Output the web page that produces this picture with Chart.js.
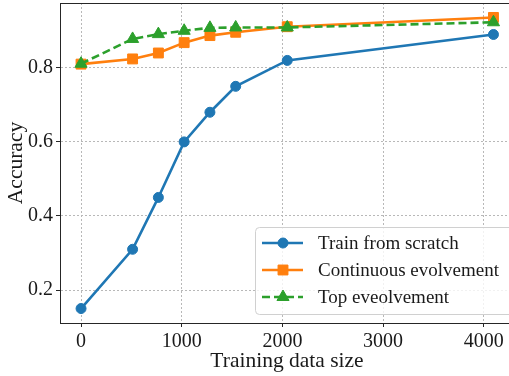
<!DOCTYPE html>
<html>
<head>
<meta charset="utf-8">
<script src="https://cdn.jsdelivr.net/npm/chart.js@4"></script>
<style>
  html, body { margin: 0; padding: 0; background: #fff; overflow: hidden; }
  #wrap { width: 515px; height: 376px; }
</style>
</head>
<body>
<div id="wrap"><canvas id="accChart" width="515" height="376"></canvas></div>
<script>
// データ
const sizes = [0, 512, 768, 1024, 1280, 1536, 2048, 4096];
const scratch = [0.15, 0.31, 0.45, 0.60, 0.68, 0.75, 0.82, 0.89];
const continuous = [0.81, 0.824, 0.84, 0.868, 0.887, 0.896, 0.911, 0.936];
const topEvo = [0.811, 0.878, 0.891, 0.90, 0.908, 0.909, 0.909, 0.923];
const seriesNames = ['Train from scratch', 'Continuous evolvement', 'Top eveolvement'];
const xTicks = [0, 1000, 2000, 3000, 4000];
const yTicks = [0.2, 0.4, 0.6, 0.8];

const serif = "'Liberation Serif', 'DejaVu Serif', serif";

function toPoints(ys) {
  return sizes.map((x, i) => ({ x: x, y: ys[i] }));
}

// 上側の枠線と凡例
const framePlugin = {
  id: 'frame',
  afterDraw(chart) {
    const ctx = chart.ctx;
    const a = chart.chartArea;
    ctx.save();
    ctx.strokeStyle = '#262626';
    ctx.lineWidth = 1;
    ctx.beginPath();
    ctx.moveTo(a.left, a.top + 0.5);
    ctx.lineTo(a.right, a.top + 0.5);
    ctx.stroke();

    // legend box
    const bx = 255.5, by = 227.5, bw = 270, bh = 87;
    ctx.beginPath();
    ctx.roundRect(bx, by, bw, bh, 4);
    ctx.fillStyle = 'rgba(255,255,255,0.8)';
    ctx.fill();
    ctx.strokeStyle = '#d0d0d0';
    ctx.stroke();

    chart.data.datasets.forEach((ds, i) => {
      const y = 243 + i * 27;
      ctx.save();
      ctx.strokeStyle = ds.borderColor;
      ctx.lineWidth = ds.borderWidth;
      ctx.setLineDash(ds.borderDash || []);
      ctx.beginPath();
      ctx.moveTo(262, y);
      ctx.lineTo(303, y);
      ctx.stroke();
      ctx.restore();
      ctx.save();
      ctx.fillStyle = ds.pointBackgroundColor;
      ctx.strokeStyle = ds.pointBorderColor;
      Chart.helpers.drawPoint(ctx, {
        pointStyle: ds.pointStyle,
        radius: ds.pointRadius,
        rotation: 0,
        borderWidth: ds.pointBorderWidth
      }, 283, y);
      ctx.restore();
      ctx.fillStyle = '#1a1a1a';
      ctx.font = '19px ' + serif;
      ctx.textBaseline = 'middle';
      ctx.fillText(ds.label, 318, y + 1);
    });
    ctx.restore();
  }
};

const colors = ['#1f77b4', '#ff7f0e', '#2ca02c'];

const gridOpts = {
  color: '#b8b8b8',
  lineWidth: 1,
  tickLength: 4,
  tickColor: '#262626',
  tickBorderDash: [],
  tickWidth: 1
};

const ctx = document.getElementById('accChart').getContext('2d');
const accChart = new Chart(ctx, {
  type: 'line',
  data: {
    datasets: [
      {
        label: seriesNames[0],
        data: toPoints(scratch),
        borderColor: colors[0],
        borderWidth: 2.6,
        pointStyle: 'circle',
        pointRadius: 5,
        pointBackgroundColor: colors[0],
        pointBorderColor: colors[0],
        pointBorderWidth: 1,
        order: 3
      },
      {
        label: seriesNames[1],
        data: toPoints(continuous),
        borderColor: colors[1],
        borderWidth: 2.6,
        pointStyle: 'rect',
        pointRadius: 7,
        pointBackgroundColor: colors[1],
        pointBorderColor: colors[1],
        pointBorderWidth: 1,
        order: 2
      },
      {
        label: seriesNames[2],
        data: toPoints(topEvo),
        borderColor: colors[2],
        borderWidth: 2.6,
        borderDash: [8, 4],
        pointStyle: 'triangle',
        pointRadius: 7,
        pointBackgroundColor: colors[2],
        pointBorderColor: colors[2],
        pointBorderWidth: 1,
        order: 1
      }
    ]
  },
  options: {
    responsive: false,
    animation: false,
    layout: { autoPadding: false, padding: { top: 3, right: 1, left: 0, bottom: 0 } },
    plugins: {
      legend: { display: false },
      tooltip: { enabled: false }
    },
    scales: {
      x: {
        type: 'linear',
        min: -209,
        max: 4300,
        afterBuildTicks: (s) => { s.ticks = xTicks.map(v => ({ value: v })); },
        afterFit: (s) => { s.height = 53; s.paddingLeft = 0; s.paddingRight = 0; },
        grid: gridOpts,
        border: { color: '#262626', width: 1, dash: [2, 2] },
        ticks: {
          color: '#1a1a1a',
          padding: 3,
          maxRotation: 0,
          font: { family: serif, size: 20 },
          callback: (v) => String(v)
        },
        title: {
          display: true,
          text: 'Training data size',
          color: '#1a1a1a',
          font: { family: serif, size: 21.5 },
          padding: { top: 0, bottom: 2 }
        }
      },
      y: {
        type: 'linear',
        min: 0.111,
        max: 0.975,
        afterBuildTicks: (s) => { s.ticks = yTicks.map(v => ({ value: v })); },
        afterFit: (s) => { s.width = 60; s.paddingTop = 0; s.paddingBottom = 0; },
        grid: gridOpts,
        border: { color: '#262626', width: 1, dash: [2, 2] },
        ticks: {
          color: '#1a1a1a',
          padding: 3,
          font: { family: serif, size: 20 },
          callback: (v) => v.toFixed(1)
        },
        title: {
          display: true,
          text: 'Accuracy',
          color: '#1a1a1a',
          font: { family: serif, size: 21.5 },
          padding: { top: 3, bottom: 0 }
        }
      }
    }
  },
  plugins: [framePlugin]
});
</script>
</body>
</html>
